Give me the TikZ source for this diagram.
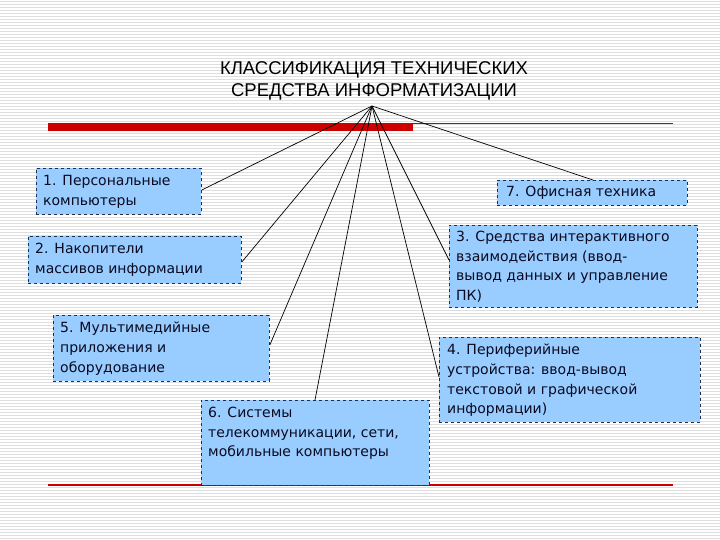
\documentclass[tikz,border=0pt]{standalone}
\usepackage{fontspec}
\setmainfont{DejaVu Sans}
\newfontfamily\titlefont{Liberation Sans}
\definecolor{boxfill}{HTML}{99CCFF}
\definecolor{boxline}{HTML}{1F2F4F}
\definecolor{barred}{HTML}{CC0000}
\definecolor{txtcol}{HTML}{0A0A20}
\definecolor{stripecol}{HTML}{DEDEDE}
\tikzset{
  box/.style={draw=boxline, fill=boxfill, dashed, line width=0.8pt, rectangle, inner sep=0pt, anchor=north west},
  txt/.style={anchor=north west, inner sep=0pt, align=left, text=txtcol, font=\fontsize{14}{19.6}\selectfont},
  conn/.style={draw=black, line width=0.7pt},
  stripe/.style={draw=stripecol, line width=0.6pt},
  thinred/.style={draw=barred, line width=1.1pt}
}
\begin{document}
\begin{tikzpicture}[x=1pt,y=-1pt]
\useasboundingbox (0,0) rectangle (720,540);
\fill[white] (0,0) rectangle (720,540);
\foreach \yy in {1.5,4.5,...,538.5} \draw[stripe] (0,\yy) -- (720,\yy);
% title
\node[font=\titlefont\fontsize{18.5}{22}\selectfont, align=center, inner sep=0pt] (title) at (374,81) {КЛАССИФИКАЦИЯ ТЕХНИЧЕСКИХ\\СРЕДСТВА ИНФОРМАТИЗАЦИИ};
\coordinate (apex) at (372,106);
% red rules
\fill[barred] (48,123) rectangle (413,131);
\draw[thinred] (413,123.5) -- (673,123.5);
\draw[thinred] (48,485) -- (673,485);
% boxes
\node[box, minimum width=165, minimum height=46] (b1) at (36,168) {};
\node[txt] at ([shift={(7,7)}]b1.north west) {1. Персональные\\компьютеры};
\node[box, minimum width=213, minimum height=47] (b2) at (28,236) {};
\node[txt] at ([shift={(7,7)}]b2.north west) {2. Накопители\\массивов информации};
\node[box, minimum width=190, minimum height=25] (b7) at (497,180) {};
\node[txt] at ([shift={(9,6)}]b7.north west) {7. Офисная техника};
\node[box, minimum width=248, minimum height=82] (b3) at (449,225) {};
\node[txt] at ([shift={(7,6)}]b3.north west) {3. Средства интерактивного\\взаимодействия (ввод-\\вывод данных и управление\\ПК)};
\node[box, minimum width=216, minimum height=66] (b5) at (53,315) {};
\node[txt] at ([shift={(7,7)}]b5.north west) {5. Мультимедийные\\приложения и\\оборудование};
\node[box, minimum width=261, minimum height=85] (b4) at (439,337) {};
\node[txt] at ([shift={(8,7)}]b4.north west) {4. Периферийные\\устройства: ввод-вывод\\текстовой и графической\\информации)};
\node[box, minimum width=228, minimum height=85] (b6) at (201,400) {};
\node[txt] at ([shift={(7,7)}]b6.north west) {6. Системы\\телекоммуникации, сети,\\мобильные компьютеры};
% connectors
\draw[conn] (apex) -- ([shift={(0,22)}]b1.north east);
\draw[conn] (apex) -- ([shift={(0,26)}]b2.north east);
\draw[conn] (apex) -- ([shift={(0,30)}]b5.north east);
\draw[conn] (apex) -- ([shift={(114,0)}]b6.north west);
\draw[conn] (apex) -- ([shift={(0,40)}]b4.north west);
\draw[conn] (apex) -- ([shift={(0,35)}]b3.north west);
\draw[conn] (apex) -- ([shift={(96,0)}]b7.north west);
\end{tikzpicture}
\end{document}
